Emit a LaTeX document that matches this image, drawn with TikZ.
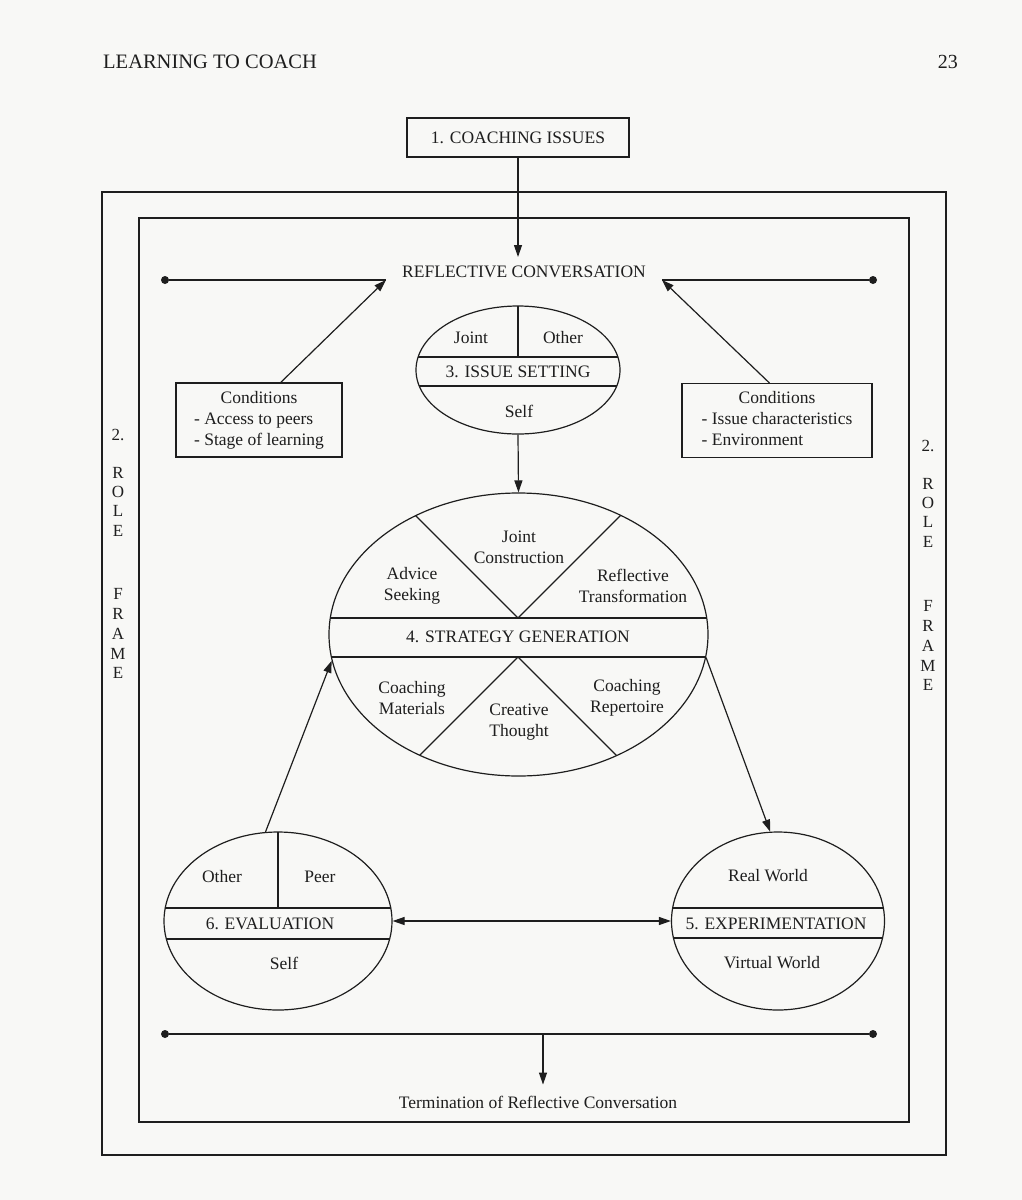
\documentclass[tikz,border=0pt]{standalone}
\usepackage{fontspec}
\setmainfont{Liberation Serif}
\usetikzlibrary{arrows.meta,calc,shapes.geometric}
\definecolor{ink}{RGB}{30,30,30}
\definecolor{paper}{RGB}{248,248,246}
\begin{document}
\begin{tikzpicture}[x=1pt,y=-1pt,
  every node/.style={text=ink, font=\fontsize{17.5}{21}\selectfont},
  line/.style={draw=ink, line width=1.2pt},
  arr/.style={line, -{Triangle[length=12pt,width=8pt]}},
  darr/.style={line, {Triangle[length=12pt,width=8pt]}-{Triangle[length=12pt,width=8pt]}},
  bubble/.style={ellipse, draw=ink, line width=1.2pt, inner sep=0pt},
  dot/.style={circle, fill=ink, minimum size=8pt, inner sep=0pt},
  box/.style={rectangle, draw=ink, line width=1.2pt},
  lbl/.style={inner sep=0pt, align=center},
  rf/.style={inner sep=0pt, font=\fontsize{17}{17}\selectfont}
]
\useasboundingbox[fill=paper] (0,0) rectangle (1022,1200);

% header
\node[anchor=base west, inner sep=0pt, font=\fontsize{20.5}{24}\selectfont] (hd) at (103,68) {LEARNING TO COACH};
\node[anchor=base east, inner sep=0pt, font=\fontsize{20}{24}\selectfont] (pg) at (958,68) {23};

% frames
\node[box, minimum width=844pt, minimum height=963pt] (outer) at (524,673.5) {};
\node[box, minimum width=770pt, minimum height=904pt] (inner) at (524,670) {};

% role frame labels
\foreach \t/\y [count=\i] in {2./435, R/473, O/492, L/511, E/531, F/594, R/614, A/634, M/654, E/673}
  \node[rf] (rl\i) at (118,\y) {\t};
\foreach \t/\y [count=\i] in {2./446, R/484, O/503, L/522, E/542, F/606, R/626, A/646, M/666, E/685}
  \node[rf] (rr\i) at (928,\y) {\t};

% coaching issues
\node[box, minimum width=222pt, minimum height=39pt, inner sep=0pt] (ci) at (518,137.5) {1. COACHING ISSUES};

% reflective conversation
\node[inner sep=0pt] (rc) at (524,272) {REFLECTIVE CONVERSATION};
\coordinate (rcL) at (386,280);
\coordinate (rcR) at (662,280);
\coordinate (rcT) at (518,257);
\node[dot] (dL) at (165,280) {};
\node[dot] (dR) at (873,280) {};
\draw[line] (dL) -- (rcL);
\draw[line] (rcR) -- (dR);
\draw[arr] (ci.south) -- (rcT);

% conditions
\node[box, minimum width=166pt, minimum height=74pt, inner sep=0pt] (cl) at (259,420)
  {\begin{tabular}{@{}l@{}}\multicolumn{1}{@{}c@{}}{Conditions}\\- Access to peers\\- Stage of learning\end{tabular}};
\node[box, minimum width=190pt, minimum height=74pt, inner sep=0pt] (cr) at (777,420.5)
  {\begin{tabular}{@{}l@{}}\multicolumn{1}{@{}c@{}}{Conditions}\\- Issue characteristics\\- Environment\end{tabular}};
\draw[arr] ($(cl.north west)!0.63!(cl.north east)$) -- (rcL);
\draw[arr] ($(cr.north west)!0.46!(cr.north east)$) -- (rcR);

% 3. issue setting
\node[bubble, minimum width=204pt, minimum height=128pt] (e3) at (518,370) {};
\begin{scope}
  \clip (e3.center) ellipse [x radius=102, y radius=64];
  \draw[line] (400,357) -- (640,357);
  \draw[line] (400,386) -- (640,386);
  \draw[line] (518,290) -- (518,357);
\end{scope}
\node[lbl] (e3a) at (471,338) {Joint};
\node[lbl] (e3b) at (563,338) {Other};
\node[lbl] (e3c) at (518,372) {3. ISSUE SETTING};
\node[lbl] (e3d) at (519,411) {Self};

% 4. strategy generation
\node[bubble, minimum width=379pt, minimum height=283pt] (e4) at (518.5,634.5) {};
\begin{scope}
  \clip (e4.center) ellipse [x radius=189.5, y radius=141.5];
  \draw[line] (300,618) -- (740,618);
  \draw[line] (300,657) -- (740,657);
  \draw[line] (518,618) -- ++(-200,-200);
  \draw[line] (518,618) -- ++(200,-200);
  \draw[line] (518,657) -- ++(-200,200);
  \draw[line] (518,657) -- ++(200,200);
\end{scope}
\node[lbl] (e4a) at (519,547) {Joint\\Construction};
\node[lbl] (e4b) at (412,586) {Advice\\Seeking};
\node[lbl] (e4c) at (633,586) {Reflective\\Transformation};
\node[lbl] (e4d) at (518,637) {4. STRATEGY GENERATION};
\node[lbl] (e4e) at (412,698) {Coaching\\Materials};
\node[lbl] (e4f) at (519,722) {Creative\\Thought};
\node[lbl] (e4g) at (627,698) {Coaching\\Repertoire};

\draw[arr] (e3.south) -- (e4.north);

% 6. evaluation
\node[bubble, minimum width=228pt, minimum height=178pt] (e6) at (278,921) {};
\begin{scope}
  \clip (e6.center) ellipse [x radius=114, y radius=89];
  \draw[line] (150,908) -- (410,908);
  \draw[line] (150,939) -- (410,939);
  \draw[line] (278,820) -- (278,908);
\end{scope}
\node[lbl] (e6a) at (222,877) {Other};
\node[lbl] (e6b) at (320,877) {Peer};
\node[lbl] (e6c) at (270,924) {6. EVALUATION};
\node[lbl] (e6d) at (284,963) {Self};

% 5. experimentation
\node[bubble, minimum width=213pt, minimum height=178pt] (e5) at (778,921) {};
\begin{scope}
  \clip (e5.center) ellipse [x radius=106.5, y radius=89];
  \draw[line] (660,908) -- (900,908);
  \draw[line] (660,938) -- (900,938);
\end{scope}
\node[lbl] (e5a) at (768,876) {Real World};
\node[lbl] (e5b) at (776,924) {5. EXPERIMENTATION};
\node[lbl] (e5c) at (772,963) {Virtual World};

% connectors
\draw[arr] (e6.98) -- (e4.188);
\draw[arr] (e4.353) -- (e5.95);
\draw[darr] (e6.east) -- (e5.west);

% termination
\node[dot] (dBL) at (165,1034) {};
\node[dot] (dBR) at (873,1034) {};
\draw[line] (dBL) -- (dBR);
\coordinate (tb) at (543,1034);
\node[inner xsep=0pt, inner ysep=11pt] (term) at (538,1102) {Termination of Reflective Conversation};
\draw[arr] (tb) -- (tb |- term.north);
\end{tikzpicture}
\end{document}
